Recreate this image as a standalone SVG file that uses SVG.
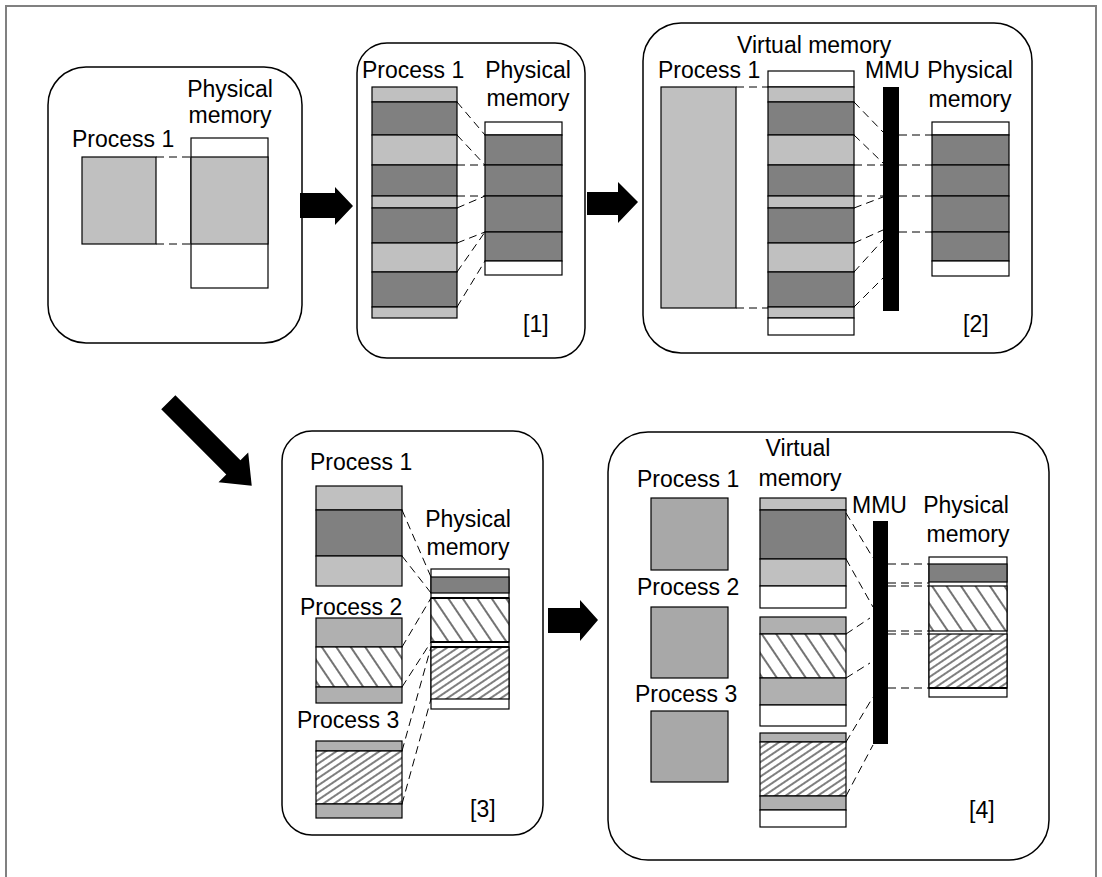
<svg xmlns="http://www.w3.org/2000/svg" width="1102" height="877" viewBox="0 0 1102 877">
<style>
text{font-family:"Liberation Sans",Arial,sans-serif;font-size:23px;fill:#000}
.mid{text-anchor:middle}
.frame{fill:#fff;stroke:#808080;stroke-width:2}
.box{fill:none;stroke:#000;stroke-width:1.5}
.seg{stroke:#000;stroke-width:1.2}
.lt{fill:#c0c0c0}
.md{fill:#b0b0b0}
.sq{fill:#a8a8a8;stroke:#000;stroke-width:1.2}
.dk{fill:#808080}
.wh{fill:#fff}
.h1{fill:url(#hatch1)}
.h2{fill:url(#hatch2)}
.thick{stroke:#000;stroke-width:2.2}
.mmu{fill:#000}
.arrow{fill:#000}
.dash{stroke:#000;stroke-width:1;stroke-dasharray:8,5;fill:none}
</style>
<defs>
<pattern id="hatch1" patternUnits="userSpaceOnUse" width="12" height="20" patternTransform="rotate(-34)">
<rect width="12" height="20" fill="#fff"/>
<line x1="1" y1="0" x2="1" y2="20" stroke="#000" stroke-width="1.1"/>
</pattern>
<pattern id="hatch2" patternUnits="userSpaceOnUse" width="6" height="20" patternTransform="rotate(56)">
<rect width="6" height="20" fill="#fff"/>
<line x1="1" y1="0" x2="1" y2="20" stroke="#000" stroke-width="1"/>
</pattern>
</defs>
<rect class="frame" x="6" y="6" width="1090" height="880"/>

<g id="arrows">
<polygon class="arrow" points="300,193 335,193 335,187 353,206 335,225 335,218 300,218"/>
<polygon class="arrow" points="587,192 618,192 618,182 638,202 618,223 618,215 587,215"/>
<polygon class="arrow" points="548,608 580,608 580,600 598,620 580,641 580,633 548,633"/>
<polygon class="arrow" transform="translate(168.3,402.3) rotate(45)" points="0,-10 92,-10 92,-21 118,0 92,21 92,10 0,10"/>
</g>

<g id="stage0">
<rect class="box" x="48" y="67" width="254" height="276" rx="38"/>
<text x="72" y="147">Process 1</text>
<text class="mid" x="230" y="97">Physical</text>
<text class="mid" x="230" y="123">memory</text>
<rect class="seg lt" x="82" y="157" width="74" height="87"/>
<rect class="seg wh" x="191" y="138" width="77" height="150"/>
<rect class="seg lt" x="191" y="157" width="77" height="87"/>
</g>

<g id="stage1">
<rect class="box" x="357" y="43" width="228" height="315" rx="30"/>
<text x="362" y="78">Process 1</text>
<text class="mid" x="528" y="78">Physical</text>
<text class="mid" x="528" y="106">memory</text>
<rect class="seg lt" x="372" y="87" width="85" height="15"/>
<rect class="seg dk" x="372" y="102" width="85" height="33"/>
<rect class="seg lt" x="372" y="135" width="85" height="30"/>
<rect class="seg dk" x="372" y="165" width="85" height="31"/>
<rect class="seg lt" x="372" y="196" width="85" height="12"/>
<rect class="seg dk" x="372" y="208" width="85" height="35"/>
<rect class="seg lt" x="372" y="243" width="85" height="29"/>
<rect class="seg dk" x="372" y="272" width="85" height="35"/>
<rect class="seg lt" x="372" y="307" width="85" height="11"/>
<rect class="seg wh" x="485" y="122" width="77" height="13"/>
<rect class="seg dk" x="485" y="135" width="77" height="30"/>
<rect class="seg dk" x="485" y="165" width="77" height="31"/>
<rect class="seg dk" x="485" y="196" width="77" height="36"/>
<rect class="seg dk" x="485" y="232" width="77" height="29"/>
<rect class="seg wh" x="485" y="261" width="77" height="14"/>
<text x="523" y="332">[1]</text>
</g>

<g id="stage2">
<rect class="box" x="643" y="23" width="389" height="330" rx="38"/>
<text x="737" y="53">Virtual memory</text>
<text x="658" y="78">Process 1</text>
<text x="865" y="78">MMU</text>
<text class="mid" x="970" y="78">Physical</text>
<text class="mid" x="970" y="107">memory</text>
<rect class="seg lt" x="661" y="87" width="75" height="221"/>
<rect class="seg wh" x="768" y="71" width="86" height="16"/>
<rect class="seg lt" x="768" y="87" width="86" height="15"/>
<rect class="seg dk" x="768" y="102" width="86" height="33"/>
<rect class="seg lt" x="768" y="135" width="86" height="30"/>
<rect class="seg dk" x="768" y="165" width="86" height="31"/>
<rect class="seg lt" x="768" y="196" width="86" height="12"/>
<rect class="seg dk" x="768" y="208" width="86" height="35"/>
<rect class="seg lt" x="768" y="243" width="86" height="29"/>
<rect class="seg dk" x="768" y="272" width="86" height="35"/>
<rect class="seg lt" x="768" y="307" width="86" height="11"/>
<rect class="seg wh" x="768" y="318" width="86" height="17"/>
<rect class="mmu" x="883" y="87" width="16" height="224"/>
<rect class="seg wh" x="932" y="122" width="77" height="13"/>
<rect class="seg dk" x="932" y="135" width="77" height="30"/>
<rect class="seg dk" x="932" y="165" width="77" height="31"/>
<rect class="seg dk" x="932" y="196" width="77" height="36"/>
<rect class="seg dk" x="932" y="232" width="77" height="29"/>
<rect class="seg wh" x="932" y="261" width="77" height="15"/>
<text x="963" y="332">[2]</text>
</g>

<g id="stage3">
<rect class="box" x="282" y="431" width="261" height="404" rx="30"/>
<text x="310" y="470">Process 1</text>
<text x="300" y="615">Process 2</text>
<text x="297" y="728">Process 3</text>
<text class="mid" x="468" y="527">Physical</text>
<text class="mid" x="468" y="555">memory</text>
<rect class="seg lt" x="316" y="486" width="86" height="24"/>
<rect class="seg dk" x="316" y="510" width="86" height="46"/>
<rect class="seg lt" x="316" y="556" width="86" height="30"/>
<rect class="seg md" x="316" y="618" width="86" height="29"/>
<rect class="seg h1" x="316" y="647" width="86" height="40"/>
<rect class="seg md" x="316" y="687" width="86" height="16"/>
<rect class="seg md" x="316" y="741" width="86" height="10"/>
<rect class="seg h2" x="316" y="751" width="86" height="53"/>
<rect class="seg md" x="316" y="804" width="86" height="14"/>
<rect class="seg wh" x="431" y="569" width="78" height="140"/>
<rect class="seg dk" x="431" y="577" width="78" height="16"/>
<rect class="seg h1" x="431" y="598" width="78" height="44"/>
<rect class="seg h2" x="431" y="647" width="78" height="52"/>
<line class="thick" x1="431" y1="598" x2="509" y2="598"/>
<line class="thick" x1="431" y1="642" x2="509" y2="642"/>
<line class="thick" x1="431" y1="647" x2="509" y2="647"/>
<text x="470" y="817">[3]</text>
</g>

<g id="stage4">
<rect class="box" x="608" y="432" width="441" height="428" rx="40"/>
<text class="mid" x="798" y="456">Virtual</text>
<text class="mid" x="800" y="486">memory</text>
<text x="637" y="487">Process 1</text>
<text x="637" y="595">Process 2</text>
<text x="635" y="702">Process 3</text>
<text x="852" y="513">MMU</text>
<text class="mid" x="966" y="513">Physical</text>
<text class="mid" x="968" y="542">memory</text>
<rect class="sq" x="651" y="498" width="77" height="72"/>
<rect class="sq" x="651" y="607" width="77" height="71"/>
<rect class="sq" x="651" y="711" width="77" height="71"/>
<rect class="seg lt" x="760" y="498" width="86" height="12"/>
<rect class="seg dk" x="760" y="510" width="86" height="49"/>
<rect class="seg lt" x="760" y="559" width="86" height="27"/>
<rect class="seg wh" x="760" y="586" width="86" height="22"/>
<rect class="seg md" x="760" y="617" width="86" height="17"/>
<rect class="seg h1" x="760" y="634" width="86" height="44"/>
<rect class="seg md" x="760" y="678" width="86" height="27"/>
<rect class="seg wh" x="760" y="705" width="86" height="21"/>
<rect class="seg md" x="760" y="733" width="86" height="9"/>
<rect class="seg h2" x="760" y="742" width="86" height="54"/>
<rect class="seg md" x="760" y="796" width="86" height="14"/>
<rect class="seg wh" x="760" y="810" width="86" height="17"/>
<rect class="mmu" x="873" y="521" width="15" height="223"/>
<rect class="seg wh" x="929" y="557" width="78" height="140"/>
<rect class="seg dk" x="929" y="564" width="78" height="18"/>
<rect class="seg h1" x="929" y="586" width="78" height="45"/>
<rect class="seg h2" x="929" y="634" width="78" height="54"/>
<line class="thick" x1="929" y1="688" x2="1007" y2="688"/>
<text x="969" y="818">[4]</text>
</g>

<g id="connectors">
<path class="dash" d="M156,157H191M156,244H191"/>
<path class="dash" d="M457,102L485,135M457,135L485,165M457,165L485,165M457,196L485,196M457,208L485,196M457,243L485,232M457,272L485,232M457,307L485,261"/>
<path class="dash" d="M736,87H768M736,308H768"/>
<path class="dash" d="M854,102L883,132M854,135L883,163M854,165H883M854,196H883M854,208L883,197M854,243L883,230M854,272L883,240M854,307L883,278"/>
<path class="dash" d="M899,135H932M899,165H932M899,196H932M899,232H932"/>
<path class="dash" d="M402,510L431,577M402,556L431,593M402,647L431,598M402,687L431,642M402,751L431,647M402,804L431,699"/>
<path class="dash" d="M846,513L873,558M846,559L873,607M846,634L870,618M846,678L870,663M846,742L873,697M846,796L873,745"/>
<path class="dash" d="M888,564H929M888,583H929M888,586H929M888,631H929M888,634H929M888,688H929"/>
</g>
</svg>
